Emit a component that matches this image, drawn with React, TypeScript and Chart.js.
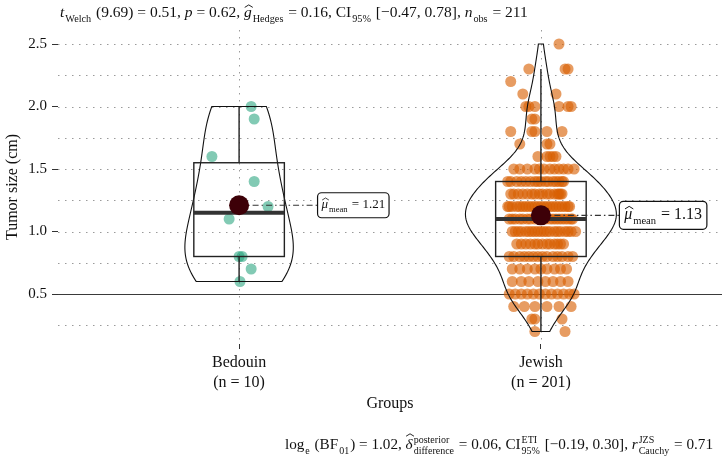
import React, { useEffect, useRef } from 'react';
import { Chart, registerables } from 'chart.js';

Chart.register(...registerables);

// ---------- data ----------
const groups = ['Bedouin', 'Jewish'];
const groupCounts = ['(n = 10)', '(n = 201)'];

const bedouinValues = [2.0, 1.9, 1.6, 1.4, 1.2, 1.1, 0.8, 0.8, 0.7, 0.6];
const bedouinJitter = [0.04, 0.05, -0.09, 0.05, 0.096, -0.033, 0.01, 0.0, 0.04, 0.003];

// Jewish group: each level with the horizontal jitter of every point at that level
const jewishLevels = [2.5, 2.3, 2.2, 2.1, 2.0, 1.9, 1.8, 1.7, 1.6, 1.5, 1.4, 1.3, 1.2, 1.1, 1.0, 0.9, 0.8, 0.7, 0.6, 0.5, 0.4, 0.3, 0.2];
const jewishJitter: number[][] = [
  [0.06],
  [0.08, 0.09, -0.04],
  [-0.1],
  [-0.06, 0.05],
  [-0.04, -0.02, 0.06, 0.09, 0.1, -0.05],
  [-0.03, -0.02],
  [-0.1, -0.02, 0.02, 0.07, -0.03],
  [-0.07, 0.02, 0.03],
  [0.02, 0.05, 0.04, -0.01, 0.03],
  [-0.09, -0.07, -0.045, -0.02, -0.005, 0.01, 0.03, 0.045, 0.06, 0.075, 0.09, 0.11],
  [-0.11, -0.1, -0.08, -0.065, -0.05, -0.035, -0.02, -0.01, 0.0, 0.015, 0.025, 0.04, 0.05, 0.06, 0.07, 0.075],
  [-0.1, -0.09, -0.075, -0.06, -0.045, -0.03, -0.02, -0.005, 0.005, 0.02, 0.03, 0.045, 0.055, 0.06, 0.065, 0.07],
  [-0.11, -0.105, -0.095, -0.08, -0.07, -0.06, -0.05, -0.04, -0.03, -0.02, -0.01, 0.0, 0.01, 0.02, 0.03, 0.04, 0.05, 0.06, 0.07, 0.08, 0.09, 0.095],
  [-0.105, -0.095, -0.085, -0.07, -0.06, -0.045, -0.035, -0.02, -0.005, 0.005, 0.015, 0.03, 0.04, 0.05, 0.06, 0.07, 0.08, 0.09, 0.1, 0.105],
  [-0.095, -0.085, -0.075, -0.065, -0.05, -0.04, -0.03, -0.02, -0.01, 0.0, 0.01, 0.02, 0.03, 0.045, 0.055, 0.065, 0.08, 0.09, 0.1, 0.115],
  [-0.08, -0.065, -0.05, -0.035, -0.02, -0.01, 0.005, 0.02, 0.03, 0.045, 0.055, 0.065, 0.075],
  [-0.105, -0.09, -0.07, -0.055, -0.04, -0.025, -0.01, 0.005, 0.02, 0.04, 0.055, 0.07, 0.09, 0.105],
  [-0.095, -0.07, -0.045, -0.02, 0.0, 0.02, 0.045, 0.065, 0.085],
  [-0.095, -0.065, -0.04, -0.01, 0.015, 0.04, 0.065, 0.09],
  [-0.105, -0.085, -0.065, -0.045, -0.025, -0.005, 0.015, 0.035, 0.055, 0.075, 0.095, 0.11],
  [-0.09, -0.055, -0.02, 0.02, 0.06, 0.1],
  [-0.03, -0.02, 0.07],
  [0.08, -0.02],
];

const yMajorTicks = [0.5, 1.0, 1.5, 2.0, 2.5];
const yMinorTicks = [0.25, 0.75, 1.25, 1.75, 2.25];
const referenceValue = 0.5;

// ---------- derived ----------
const jewishValues: number[] = [];
const jewishOffsets: number[] = [];
jewishLevels.forEach((v, i) => jewishJitter[i].forEach((o) => { jewishValues.push(v); jewishOffsets.push(o); }));

const groupValues = [bedouinValues, jewishValues];

function quantile(sorted: number[], p: number) {
  const h = (sorted.length - 1) * p;
  const lo = Math.floor(h);
  const hi = Math.ceil(h);
  return sorted[lo] + (sorted[hi] - sorted[lo]) * (h - lo);
}
function summary(vals: number[]) {
  const s = [...vals].sort((a, b) => a - b);
  const n = s.length;
  const mean = s.reduce((a, b) => a + b, 0) / n;
  const sd = Math.sqrt(s.reduce((a, b) => a + (b - mean) ** 2, 0) / (n - 1));
  const q1 = quantile(s, 0.25), med = quantile(s, 0.5), q3 = quantile(s, 0.75);
  const iqr = q3 - q1;
  const lowW = s.find((v) => v >= q1 - 1.5 * iqr)!;
  const upW = [...s].reverse().find((v) => v <= q3 + 1.5 * iqr)!;
  const bw = 0.9 * Math.min(sd, iqr / 1.34) * Math.pow(n, -0.2);
  const dens: { y: number; d: number }[] = [];
  const K = 200;
  for (let k = 0; k <= K; k++) {
    const yv = s[0] + ((s[n - 1] - s[0]) * k) / K;
    let acc = 0;
    for (const v of s) acc += Math.exp(-0.5 * ((yv - v) / bw) ** 2);
    dens.push({ y: yv, d: acc / (n * bw * Math.sqrt(2 * Math.PI)) });
  }
  return { mean, q1, med, q3, lowW, upW, dens };
}
const stats = groupValues.map(summary);
const maxDensity = Math.max(...stats.flatMap((s) => s.dens.map((p) => p.d)));

// ---------- styles ----------
const FONT = "'Liberation Serif', 'Times New Roman', serif";
const TEXT = '#111111';

type Seg = { t: string; it?: boolean; sub?: string; sup?: string; hat?: 'x' | 'asc' };

function drawRich(ctx: CanvasRenderingContext2D, segs: Seg[], x: number, y: number, size: number, measureOnly = false) {
  const small = size * 0.66;
  let cx = x;
  ctx.textBaseline = 'alphabetic';
  ctx.textAlign = 'left';
  for (const s of segs) {
    ctx.font = `${s.it ? 'italic ' : ''}${size}px ${FONT}`;
    const tw = ctx.measureText(s.t).width;
    if (!measureOnly) {
      ctx.fillText(s.t, cx, y);
      if (s.hat) {
        const hc = cx + tw / 2 + (s.it ? size * 0.06 : 0);
        const hw = size * 0.26;
        const top = s.hat === 'asc' ? y - size * 1.0 : y - size * 0.78;
        const base = top + size * 0.16;
        ctx.save();
        ctx.beginPath();
        ctx.moveTo(hc - hw, base);
        ctx.lineTo(hc, top);
        ctx.lineTo(hc + hw, base);
        ctx.lineWidth = size * 0.06;
        ctx.strokeStyle = ctx.fillStyle as string;
        ctx.stroke();
        ctx.restore();
      }
    }
    cx += tw;
    let sw = 0;
    ctx.font = `${small}px ${FONT}`;
    if (s.sub) {
      const w = ctx.measureText(s.sub).width;
      if (!measureOnly) ctx.fillText(s.sub, cx + 1, y + size * 0.3);
      sw = Math.max(sw, w);
    }
    if (s.sup) {
      const w = ctx.measureText(s.sup).width;
      if (!measureOnly) ctx.fillText(s.sup, cx + 1, y - size * 0.42);
      sw = Math.max(sw, w);
    }
    if (sw) cx += sw + 2;
  }
  return cx - x;
}

const subtitleSegs: Seg[] = [
  { t: 't', it: true, sub: 'Welch' },
  { t: ' (9.69) = 0.51, ' },
  { t: 'p', it: true },
  { t: ' = 0.62, ' },
  { t: 'g', it: true, hat: 'x', sub: 'Hedges' },
  { t: ' = 0.16, CI', sub: '95%' },
  { t: ' [\u22120.47, 0.78], ' },
  { t: 'n', it: true, sub: 'obs' },
  { t: ' = 211' },
];
const captionSegs: Seg[] = [
  { t: 'log', sub: 'e' },
  { t: ' (BF', sub: '01' },
  { t: ') = 1.02, ' },
  { t: '\u03B4', it: true, hat: 'asc', sup: 'posterior', sub: 'difference' },
  { t: ' = 0.06, CI', sup: 'ETI', sub: '95%' },
  { t: ' [\u22120.19, 0.30], ' },
  { t: 'r', it: true, sup: 'JZS', sub: 'Cauchy' },
  { t: ' = 0.71' },
];

const labelFontSizes = [13, 16];

const ggPlugin = {
  id: 'ggstats',
  beforeDatasetsDraw(chart: any) {
    const { ctx, chartArea: a, scales } = chart;
    const x = scales.x, y = scales.y;
    ctx.save();
    ctx.strokeStyle = '#9a9a9a';
    ctx.lineWidth = 1;
    ctx.setLineDash([1.5, 5.5]);
    for (const v of [...yMajorTicks, ...yMinorTicks]) {
      if (v === referenceValue) continue;
      const py = Math.round(y.getPixelForValue(v)) + 0.5;
      ctx.beginPath(); ctx.moveTo(a.left, py); ctx.lineTo(a.right, py); ctx.stroke();
    }
    groups.forEach((_, i) => {
      const px = Math.round(x.getPixelForValue(i + 1)) + 0.5;
      ctx.beginPath(); ctx.moveTo(px, a.top); ctx.lineTo(px, a.bottom); ctx.stroke();
    });
    ctx.setLineDash([]);
    ctx.strokeStyle = '#3a3a3a';
    ctx.lineWidth = 1.2;
    const ry = Math.round(y.getPixelForValue(referenceValue)) + 0.5;
    ctx.beginPath(); ctx.moveTo(a.left, ry); ctx.lineTo(a.right, ry); ctx.stroke();
    ctx.restore();
  },
  afterDatasetDraw(chart: any, args: any) {
    if (args.index !== 1) return;
    const { ctx, scales } = chart;
    const x = scales.x, y = scales.y;
    ctx.save();
    stats.forEach((s, i) => {
      const g = i + 1;
      const cx = x.getPixelForValue(g);
      const unit = x.getPixelForValue(g + 1) - cx;
      // violin
      ctx.beginPath();
      s.dens.forEach((p, k) => {
        const px = cx + (p.d / maxDensity) * 0.25 * unit;
        const py = y.getPixelForValue(p.y);
        if (k === 0) ctx.moveTo(px, py); else ctx.lineTo(px, py);
      });
      for (let k = s.dens.length - 1; k >= 0; k--) {
        const p = s.dens[k];
        ctx.lineTo(cx - (p.d / maxDensity) * 0.25 * unit, y.getPixelForValue(p.y));
      }
      ctx.closePath();
      ctx.strokeStyle = '#111';
      ctx.lineWidth = 1.1;
      ctx.stroke();
      // box
      const bl = x.getPixelForValue(g - 0.15), br = x.getPixelForValue(g + 0.15);
      const yq1 = y.getPixelForValue(s.q1), yq3 = y.getPixelForValue(s.q3);
      ctx.lineWidth = 1.4;
      ctx.strokeStyle = '#222';
      ctx.strokeRect(bl, yq3, br - bl, yq1 - yq3);
      ctx.beginPath();
      ctx.moveTo(cx, yq3); ctx.lineTo(cx, y.getPixelForValue(s.upW));
      ctx.moveTo(cx, yq1); ctx.lineTo(cx, y.getPixelForValue(s.lowW));
      ctx.stroke();
      ctx.lineWidth = 4;
      ctx.strokeStyle = '#333';
      const ym = y.getPixelForValue(s.med);
      ctx.beginPath(); ctx.moveTo(bl, ym); ctx.lineTo(br, ym); ctx.stroke();
      // dash-dot connector to label
      const my = y.getPixelForValue(s.mean);
      ctx.setLineDash([6, 3, 1.5, 3]);
      ctx.lineWidth = 1.2;
      ctx.strokeStyle = '#333';
      ctx.beginPath(); ctx.moveTo(cx, my); ctx.lineTo(x.getPixelForValue(g + 0.26), my); ctx.stroke();
      ctx.setLineDash([]);
    });
    ctx.restore();
  },
  afterDatasetsDraw(chart: any) {
    const { ctx, scales } = chart;
    const x = scales.x, y = scales.y;
    ctx.save();
    stats.forEach((s, i) => {
      const g = i + 1;
      const size = labelFontSizes[i];
      const segs: Seg[] = [{ t: '\u03BC', it: true, hat: 'x', sub: 'mean' }, { t: ' = ' + s.mean.toFixed(2) }];
      const w = drawRich(ctx, segs, 0, 0, size, true);
      const left = x.getPixelForValue(g + 0.26);
      const my = y.getPixelForValue(s.mean);
      const h = size + 12;
      const bw = w + size * 0.6;
      ctx.beginPath();
      ctx.roundRect(left, my - h / 2, bw, h, 4);
      ctx.fillStyle = '#ffffff';
      ctx.fill();
      ctx.strokeStyle = '#111';
      ctx.lineWidth = 1.2;
      ctx.stroke();
      ctx.fillStyle = TEXT;
      drawRich(ctx, segs, left + size * 0.3, my + size * 0.22, size);
    });
    ctx.restore();
  },
  afterDraw(chart: any) {
    const { ctx } = chart;
    ctx.save();
    ctx.fillStyle = TEXT;
    drawRich(ctx, subtitleSegs, 60, 17, 15.5);
    const cw = drawRich(ctx, captionSegs, 0, 0, 15.2, true);
    drawRich(ctx, captionSegs, 713 - cw, 449, 15.2);
    ctx.restore();
  },
};

export default function App() {
  const ref = useRef<HTMLCanvasElement>(null);
  useEffect(() => {
    document.body.style.margin = '0';
    const tickFont = { family: FONT, size: 16, lineHeight: '20px' };
    const chart = new Chart(ref.current!, {
      type: 'scatter',
      data: {
        datasets: [
          {
            label: 'mean',
            data: stats.map((s, i) => ({ x: i + 1, y: s.mean })),
            pointRadius: 10,
            pointBackgroundColor: '#3d0008',
            pointBorderWidth: 0,
          },
          {
            label: groups[0],
            data: bedouinValues.map((v, i) => ({ x: 1 + bedouinJitter[i], y: v })),
            pointRadius: 5.5,
            pointBackgroundColor: 'rgba(27,158,119,0.55)',
            pointBorderWidth: 0,
          },
          {
            label: groups[1],
            data: jewishValues.map((v, i) => ({ x: 2 + jewishOffsets[i], y: v })),
            pointRadius: 5.5,
            pointBackgroundColor: 'rgba(217,95,2,0.62)',
            pointBorderWidth: 0,
          },
        ],
      },
      options: {
        animation: false,
        responsive: false,
        maintainAspectRatio: false,
        layout: { autoPadding: false, padding: { top: 30, right: 2, bottom: 47, left: 0 } },
        plugins: { legend: { display: false }, tooltip: { enabled: false } },
        scales: {
          x: {
            type: 'linear',
            min: 0.4,
            max: 2.6,
            afterBuildTicks: (s: any) => { s.ticks = groups.map((_, i) => ({ value: i + 1 })); },
            afterFit: (s: any) => { s.height = 70; s.paddingLeft = 0; s.paddingRight = 0; },
            ticks: {
              callback: (_v: any, i: number) => [groups[i], groupCounts[i]],
              font: tickFont,
              color: TEXT,
              padding: 4,
              autoSkip: false,
              maxRotation: 0,
            },
            grid: { drawOnChartArea: false, tickLength: 5, tickColor: '#333', tickWidth: 1 },
            border: { display: false },
            title: { display: true, text: 'Groups', font: { family: FONT, size: 16, lineHeight: '20px' }, color: TEXT, padding: 0 },
          },
          y: {
            type: 'linear',
            min: 0.1,
            max: 2.612,
            afterBuildTicks: (s: any) => { s.ticks = yMajorTicks.map((v) => ({ value: v })); },
            afterFit: (s: any) => { s.width = 58; s.paddingTop = 0; s.paddingBottom = 0; },
            ticks: {
              callback: (v: any) => Number(v).toFixed(1),
              font: { family: FONT, size: 15 },
              color: TEXT,
              padding: 5,
            },
            grid: { drawOnChartArea: false, tickLength: 6, tickColor: '#333', tickWidth: 1 },
            border: { display: false },
            title: { display: true, text: 'Tumor size (cm)', font: { family: FONT, size: 16, lineHeight: '20px' }, color: TEXT, padding: { top: 3, bottom: 0 } },
          },
        },
      },
      plugins: [ggPlugin],
    } as any);
    return () => chart.destroy();
  }, []);
  return (
    <div style={{ width: 724, height: 461 }}>
      <canvas ref={ref} width={724} height={461} style={{ display: 'block' }} />
    </div>
  );
}
